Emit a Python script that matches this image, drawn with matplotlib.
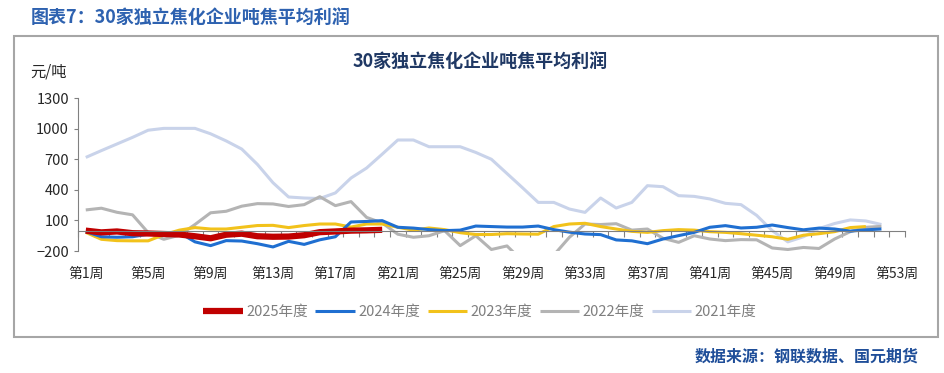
import matplotlib
matplotlib.use("Agg")
import matplotlib.pyplot as plt
from matplotlib.patches import Rectangle
import numpy as np

plt.rcParams['font.family'] = ['Noto Sans CJK SC', 'DejaVu Sans']

# weekly values, 元/吨
y2025 = [0, -17, -8, -25, -28, -33, -38, -55, -75, -40, -30, -55, -60, -58, -45,
         -15, -8, 0, 3, 8]
y2024 = [-10, -60, -65, -60, -35, -20, -20, -110, -147, -98, -102, -128, -160, -105,
         -135, -90, -60, 85, 90, 98, 33, 25, 10, 0, 5, 45, 40, 35, 35, 45, 10, -15,
         -33, -39, -91, -100, -128, -82, -49, -17, 33, 49, 26, 33, 55, 30, 8, 25, 16,
         -5, 8, 16]
y2023 = [-17, -85, -98, -100, -100, -40, 5, 30, 16, 16, 33, 50, 52, 30, 50, 65, 65,
         35, 65, 65, 33, 5, 26, 10, -20, -38, -38, -30, -33, -35, 40, 65, 72, 40, 16,
         -7, -17, 0, 10, 5, -10, -17, -30, -45, -60, -85, -45, -30, -10, 30, 40]
y2022 = [203, 220, 180, 155, -20, -85, -45, 60, 175, 190, 240, 265, 262, 237, 255,
         333, 245, 285, 130, 75, -35, -65, -50, 0, -147, -50, -185, -150, -300, -350,
         -240, -65, 65, 60, 68, 5, 16, -75, -115, -50, -82, -98, -88, -90, -170, -185,
         -165, -175, -82, -10, 33, 42]
y2021 = [718, 785, 850, 915, 985, 1003, 1003, 1003, 950, 880, 800, 650, 470, 330,
         320, 315, 370, 516, 614, 750, 889, 889, 823, 823, 823, 767, 700, 560, 420,
         277, 277, 212, 179, 320, 222, 277, 441, 431, 343, 336, 311, 268, 255, 150,
         0, -110, -60, 20, 70, 105, 95, 60]

series = [
    ('2021年度', y2021, '#C9D3EA', 2.2),
    ('2022年度', y2022, '#B4B4B4', 2.2),
    ('2023年度', y2023, '#F2C21B', 2.2),
    ('2024年度', y2024, '#1F6FD1', 2.2),
    ('2025年度', y2025, '#C00000', 4.5),
]

week_labels = ['第%d周' % w for w in range(1, 54, 4)]
y_ticks = [-200, 100, 400, 700, 1000, 1300]

fig = plt.figure(figsize=(9.45, 3.73), dpi=100)

# outer frame
fig.patches.append(Rectangle((0.015, 0.0965), 0.9776, 0.807, transform=fig.transFigure,
                             fill=False, edgecolor='#A6A6A6', linewidth=1.5))

fig.text(0.032, 0.952, '图表7：30家独立焦化企业吨焦平均利润', fontsize=13,
         fontweight='bold', color='#2E62B0', ha='left', va='center')
fig.text(0.508, 0.835, '30家独立焦化企业吨焦平均利润', fontsize=13,
         fontweight='bold', color='#1F3864', ha='center', va='center')
fig.text(0.032, 0.807, '元/吨', fontsize=11, color='#262626', ha='left', va='center')
fig.text(0.972, 0.045, '数据来源：钢联数据、国元期货', fontsize=11.5,
         fontweight='bold', color='#1F4E99', ha='right', va='center')

ax = fig.add_axes([0.0825, 0.327, 0.875, 0.41])

handles = {}
for name, vals, color, lw in series:
    x = np.arange(1, len(vals) + 1)
    ln, = ax.plot(x, vals, color=color, linewidth=lw, solid_capstyle='butt')
    handles[name] = ln

ax.set_xlim(0.5, 53.5)
ax.set_ylim(-200, 1300)
ax.set_yticks(y_ticks)
ax.tick_params(axis='y', labelsize=10.5, colors='#808080', labelcolor='#262626',
               length=3, width=0.8)

for s in ['top', 'right']:
    ax.spines[s].set_visible(False)
ax.spines['left'].set_color('#808080')
ax.spines['bottom'].set_color('#808080')
ax.spines['bottom'].set_position(('data', 0))

ax.set_xticks(np.arange(1, 54, 4))
ax.set_xticklabels(week_labels)
ax.set_xticks(np.arange(0.5, 54, 1), minor=True)
ax.tick_params(axis='x', which='major', length=0, pad=26, labelsize=10,
               labelcolor='#262626')
ax.tick_params(axis='x', which='minor', length=4, width=0.8, colors='#808080',
               direction='out')

order = ['2025年度', '2024年度', '2023年度', '2022年度', '2021年度']
leg = fig.legend([handles[k] for k in order], order, loc='center',
                 bbox_to_anchor=(0.508, 0.163), ncol=5, frameon=False,
                 fontsize=10.5, handlelength=2.7, handletextpad=0.25,
                 columnspacing=0.5)
for t in leg.get_texts():
    t.set_color('#7F7F7F')

fig.savefig('out.png', dpi=100)
